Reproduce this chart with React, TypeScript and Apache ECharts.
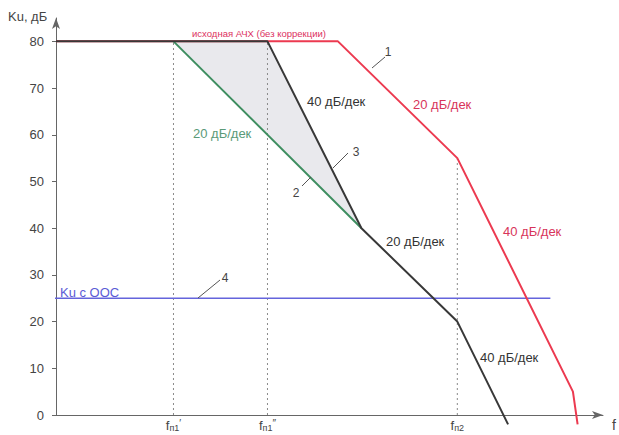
import React, { useEffect, useRef } from "react";
import * as echarts from "echarts";

// x: log-frequency in decades from the origin, y: gain in dB
const yTicks = [0, 10, 20, 30, 40, 50, 60, 70, 80];
const fTickPos = [1.25, 2.25, 4.27];
const fTickSub = ["п1", "п1", "п2"];
const fTickPrime = ["′", "″", ""];

// 1 — original response (red)
const curve1X = [0, 3.0, 4.27, 5.5, 5.55];
const curve1Y = [80, 80, 55, 5, -2];
// 2 — corrected, 20 dB/dec (green)
const curve2X = [1.25, 3.25];
const curve2Y = [80, 40];
// 3 — corrected, 40 dB/dec (black)
const curve3X = [0, 2.25, 3.25, 4.27, 4.81];
const curve3Y = [80, 80, 40, 20, -2];
// 4 — gain with feedback (blue)
const fbX = [-0.2, 5.26];
const fbY = [25, 25];
// shaded area between 2 and 3
const shadeX = [1.25, 2.25, 3.25];
const shadeY = [80, 80, 40];
// dotted guides
const guideX = [1.25, 2.25, 4.27];
const guideTop = [80, 80, 55];

const FONT = '"Liberation Sans", Arial, sans-serif';

export default function App() {
  const ref = useRef<HTMLDivElement>(null);
  useEffect(() => {
    document.body.style.margin = "0";
    const chart = echarts.init(ref.current!, null, { renderer: "svg" });
    const pairs = (xs: number[], ys: number[]) => xs.map((x, i) => [x, ys[i]]);
    const line = (name: string, xs: number[], ys: number[], color: string, width: number, z: number, type: any = "solid") => ({
      type: "line",
      name,
      data: pairs(xs, ys),
      symbol: "none",
      clip: false,
      silent: true,
      z,
      lineStyle: { color, width, type },
    });
    const guides = guideX.map((x, i) => line("g" + i, [x, x], [0, guideTop[i]], "#8a8a8a", 1, 1, [2, 3]));

    const txt = (text: string, x: number, y: number, color: string, size = 13, align = "left") => ({
      type: "text",
      silent: true,
      z: 50,
      style: { text, x, y, fill: color, fontSize: size, fontFamily: FONT, textAlign: align, textVerticalAlign: "middle" },
    });
    const lead = (x1: number, y1: number, x2: number, y2: number) => ({
      type: "line",
      silent: true,
      z: 50,
      shape: { x1, y1, x2, y2 },
      style: { stroke: "#555", lineWidth: 1 },
    });

    const option: any = {
      animation: false,
      backgroundColor: "#ffffff",
      grid: { left: 56, right: 16, top: 18, bottom: 20, containLabel: false, outerBoundsMode: "none" },
      xAxis: {
        type: "value",
        min: 0,
        max: 5.82,
        splitLine: { show: false },
        axisLine: { lineStyle: { color: "#666", width: 1 }, symbol: ["none", "arrow"], symbolSize: [6, 11] },
        axisTick: { show: false },
        axisLabel: {
          customValues: fTickPos,
          margin: 3,
          formatter: (v: number) => {
            let idx = 0;
            fTickPos.forEach((p, i) => { if (Math.abs(p - v) < Math.abs(fTickPos[idx] - v)) idx = i; });
            return "{f|f}{s|" + fTickSub[idx] + "}{p|" + fTickPrime[idx] + "}";
          },
          rich: {
            f: { fontSize: 13, color: "#444", fontFamily: FONT },
            s: { fontSize: 9, color: "#444", fontFamily: FONT, padding: [5, 0, 0, 0] },
            p: { fontSize: 10, color: "#444", fontFamily: FONT, padding: [0, 0, 3, 0] },
          },
        },
      },
      yAxis: {
        type: "value",
        min: 0,
        max: 85,
        interval: 5,
        splitLine: { show: false },
        axisLine: { lineStyle: { color: "#666", width: 1 }, symbol: ["none", "arrow"], symbolSize: [6, 11] },
        axisTick: { show: true, customValues: yTicks, length: 4, lineStyle: { color: "#666" } },
        axisLabel: { customValues: yTicks, margin: 12, color: "#444", fontSize: 13, fontFamily: FONT },
      },
      series: [
        {
          type: "custom",
          silent: true,
          z: 0,
          data: [0],
          renderItem: (_p: any, api: any) => ({
            type: "polygon",
            shape: { points: shadeX.map((x, i) => api.coord([x, shadeY[i]])) },
            style: { fill: "#e9e9ed" },
          }),
        },
        ...guides,
        line("4", fbX, fbY, "#6464dc", 1.5, 3),
        line("1", curve1X, curve1Y, "#ec3a50", 2, 4),
        line("2", curve2X, curve2Y, "#3e8e60", 2, 5),
        line("3", curve3X, curve3Y, "#383838", 2, 6),
      ],
      graphic: [
        txt("Ku, дБ", 8, 16, "#444", 13),
        txt("f", 612, 425, "#444", 14),
        txt("исходная АЧХ (без коррекции)", 259, 33, "#dc3060", 9.5, "center"),
        txt("40 дБ/дек", 307, 101, "#333"),
        txt("20 дБ/дек", 193, 133, "#5a9a78"),
        txt("20 дБ/дек", 413, 104, "#d8345a"),
        txt("20 дБ/дек", 386, 241, "#333"),
        txt("40 дБ/дек", 503, 231, "#d8345a"),
        txt("40 дБ/дек", 480, 357, "#333"),
        txt("Ku с ООС", 60, 292, "#5b5bd6"),
        txt("1", 388, 52, "#444", 12, "center"),
        txt("2", 296, 193, "#444", 12, "center"),
        txt("3", 356, 152, "#444", 12, "center"),
        txt("4", 225, 278, "#444", 12, "center"),
        lead(372, 68, 385, 57),
        lead(302, 186, 311, 177),
        lead(333, 168, 348, 153),
        lead(198, 298, 220, 280),
      ],
    };
    chart.setOption(option);
    return () => chart.dispose();
  }, []);
  return <div ref={ref} style={{ width: 619, height: 435 }} />;
}
